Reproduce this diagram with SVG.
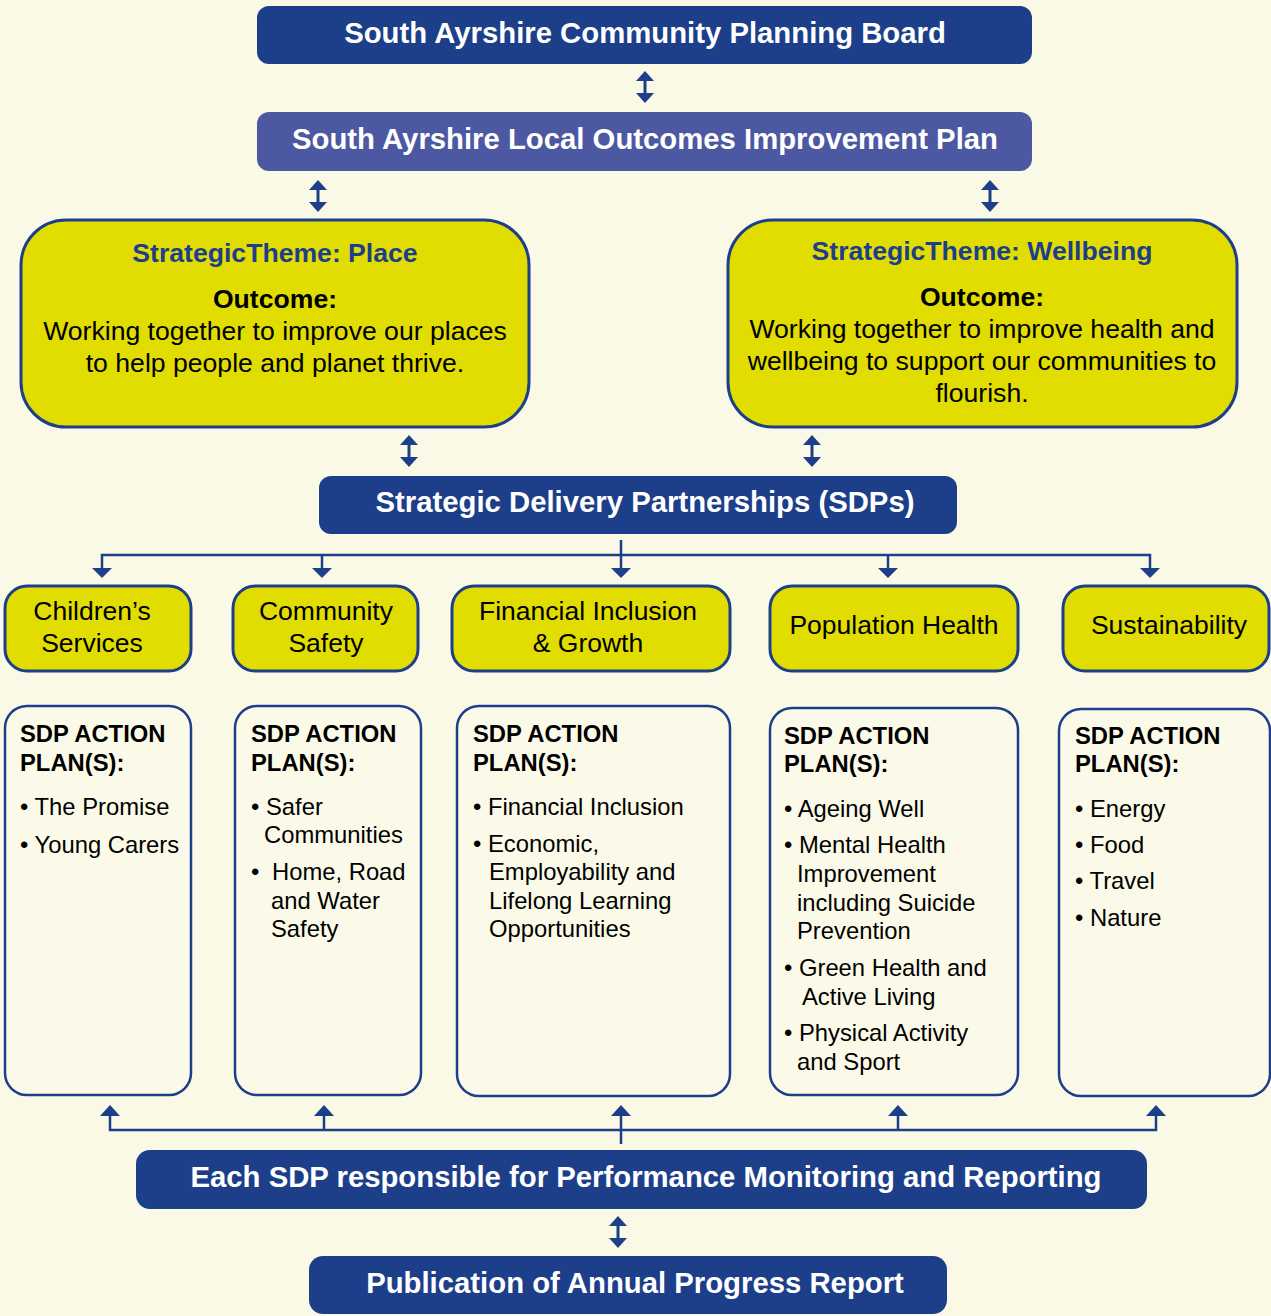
<svg xmlns="http://www.w3.org/2000/svg" width="1271" height="1316" viewBox="0 0 1271 1316">
<defs>
<style>
.bg{fill:#FAF9E6}
.dark{fill:#1D3F8A}
.loip{fill:#4C58A2}
.yel{fill:#E2DD00;stroke:#1D3F8A;stroke-width:3}
.plan{fill:#FBFAE8;stroke:#1D3F8A;stroke-width:2.5}
.ttl{font-family:"Liberation Sans",Arial,sans-serif;font-weight:bold;font-size:29.3px;fill:#FFFFFF;text-anchor:middle}
.theme{font-family:"Liberation Sans",Arial,sans-serif;font-weight:bold;font-size:26.6px;fill:#1D3F8A;text-anchor:middle}
.outc{font-family:"Liberation Sans",Arial,sans-serif;font-weight:bold;font-size:26.6px;fill:#000;text-anchor:middle}
.body{font-family:"Liberation Sans",Arial,sans-serif;font-size:26.6px;fill:#000;text-anchor:middle}
.sdp{font-family:"Liberation Sans",Arial,sans-serif;font-size:26.5px;fill:#000;text-anchor:middle}
.hd{font-family:"Liberation Sans",Arial,sans-serif;font-weight:bold;font-size:23.8px;fill:#000}
.it{font-family:"Liberation Sans",Arial,sans-serif;font-size:23.8px;fill:#000}
.ln{stroke:#1D3F8A;stroke-width:2.5;fill:none}
.ah{fill:#1D3F8A}
</style>
<g id="dbl">
<polygon class="ah" points="-9,10 0,0 9,10"/>
<polygon class="ah" points="-9,22 0,32 9,22"/>
<line x1="0" y1="9" x2="0" y2="23" stroke="#1D3F8A" stroke-width="3"/>
</g>
<polygon id="down" class="ah" points="-10,0 10,0 0,10"/>
<polygon id="up" class="ah" points="-10,11 10,11 0,0"/>
</defs>
<rect class="bg" x="0" y="0" width="1271" height="1316"/>

<g id="connectors">
<use href="#dbl" x="645" y="71"/>
<use href="#dbl" x="318" y="180"/>
<use href="#dbl" x="990" y="180"/>
<use href="#dbl" x="409" y="435"/>
<use href="#dbl" x="812" y="435"/>
<use href="#dbl" x="618" y="1216"/>
<path class="ln" d="M621,540 V568 M102,568 V555 H1150 V568 M322,555 V568 M888,555 V568"/>
<use href="#down" x="102" y="568"/>
<use href="#down" x="322" y="568"/>
<use href="#down" x="621" y="568"/>
<use href="#down" x="888" y="568"/>
<use href="#down" x="1150" y="568"/>
<path class="ln" d="M621,1144 V1115 M110,1115 V1130 H1156 V1115 M324,1115 V1130 M898,1115 V1130"/>
<use href="#up" x="110" y="1105"/>
<use href="#up" x="324" y="1105"/>
<use href="#up" x="621" y="1105"/>
<use href="#up" x="898" y="1105"/>
<use href="#up" x="1156" y="1105"/>
</g>

<g id="board">
<rect class="dark" x="257" y="6" width="775" height="58" rx="12"/>
<text class="ttl" x="645" y="43">South Ayrshire Community Planning Board</text>
</g>
<g id="loip">
<rect class="loip" x="257" y="112" width="775" height="59" rx="12"/>
<text class="ttl" x="645" y="149">South Ayrshire Local Outcomes Improvement Plan</text>
</g>
<g id="place">
<rect class="yel" x="21" y="220" width="508" height="207" rx="45"/>
<text class="theme" x="275" y="262">StrategicTheme: Place</text>
<text class="outc" x="275" y="308">Outcome:</text>
<text class="body" x="275" y="340">Working together to improve our places</text>
<text class="body" x="275" y="372">to help people and planet thrive.</text>
</g>
<g id="wellbeing">
<rect class="yel" x="728" y="220" width="509" height="207" rx="45"/>
<text class="theme" x="982" y="260">StrategicTheme: Wellbeing</text>
<text class="outc" x="982" y="306">Outcome:</text>
<text class="body" x="982" y="338">Working together to improve health and</text>
<text class="body" x="982" y="370">wellbeing to support our communities to</text>
<text class="body" x="982" y="402">flourish.</text>
</g>
<g id="sdps">
<rect class="dark" x="319" y="476" width="638" height="58" rx="12"/>
<text class="ttl" x="645" y="512">Strategic Delivery Partnerships (SDPs)</text>
</g>

<g id="childrens">
<rect class="yel" x="5" y="586" width="186" height="85" rx="22"/>
<text class="sdp" x="92" y="620">Children’s</text>
<text class="sdp" x="92" y="652">Services</text>
</g>
<g id="community">
<rect class="yel" x="233" y="586" width="185" height="85" rx="22"/>
<text class="sdp" x="326" y="620">Community</text>
<text class="sdp" x="326" y="652">Safety</text>
</g>
<g id="financial">
<rect class="yel" x="452" y="586" width="278" height="85" rx="22"/>
<text class="sdp" x="588" y="620">Financial Inclusion</text>
<text class="sdp" x="588" y="652">&amp; Growth</text>
</g>
<g id="population">
<rect class="yel" x="770" y="586" width="248" height="85" rx="22"/>
<text class="sdp" x="894" y="634">Population Health</text>
</g>
<g id="sustainability">
<rect class="yel" x="1063" y="586" width="206" height="85" rx="22"/>
<text class="sdp" x="1169" y="634">Sustainability</text>
</g>

<g id="plan-childrens">
<rect class="plan" x="5" y="706" width="186" height="389" rx="22"/>
<text class="hd" x="20" y="742">SDP ACTION</text>
<text class="hd" x="20" y="771">PLAN(S):</text>
<text class="it" x="20" y="815">• The Promise</text>
<text class="it" x="20" y="853">• Young Carers</text>
</g>
<g id="plan-community">
<rect class="plan" x="235" y="706" width="186" height="389" rx="22"/>
<text class="hd" x="251" y="742">SDP ACTION</text>
<text class="hd" x="251" y="771">PLAN(S):</text>
<text class="it" x="251" y="815">• Safer</text>
<text class="it" x="264" y="843">Communities</text>
<text class="it" x="251" y="880">•</text>
<text class="it" x="272" y="880">Home, Road</text>
<text class="it" x="271" y="909">and Water</text>
<text class="it" x="271" y="937">Safety</text>
</g>
<g id="plan-financial">
<rect class="plan" x="457" y="706" width="273" height="390" rx="22"/>
<text class="hd" x="473" y="742">SDP ACTION</text>
<text class="hd" x="473" y="771">PLAN(S):</text>
<text class="it" x="473" y="815">• Financial Inclusion</text>
<text class="it" x="473" y="852">• Economic,</text>
<text class="it" x="489" y="880">Employability and</text>
<text class="it" x="489" y="909">Lifelong Learning</text>
<text class="it" x="489" y="937">Opportunities</text>
</g>
<g id="plan-population">
<rect class="plan" x="770" y="708" width="248" height="387" rx="22"/>
<text class="hd" x="784" y="744">SDP ACTION</text>
<text class="hd" x="784" y="772">PLAN(S):</text>
<text class="it" x="784" y="817">• Ageing Well</text>
<text class="it" x="784" y="853">• Mental Health</text>
<text class="it" x="797" y="882">Improvement</text>
<text class="it" x="797" y="911">including Suicide</text>
<text class="it" x="797" y="939">Prevention</text>
<text class="it" x="784" y="976">• Green Health and</text>
<text class="it" x="802" y="1005">Active Living</text>
<text class="it" x="784" y="1041">• Physical Activity</text>
<text class="it" x="797" y="1070">and Sport</text>
</g>
<g id="plan-sustainability">
<rect class="plan" x="1059" y="709" width="211" height="387" rx="22"/>
<text class="hd" x="1075" y="744">SDP ACTION</text>
<text class="hd" x="1075" y="772">PLAN(S):</text>
<text class="it" x="1075" y="817">• Energy</text>
<text class="it" x="1075" y="853">• Food</text>
<text class="it" x="1075" y="889">• Travel</text>
<text class="it" x="1075" y="926">• Nature</text>
</g>

<g id="performance">
<rect class="dark" x="136" y="1150" width="1011" height="59" rx="14"/>
<text class="ttl" x="646" y="1187">Each SDP responsible for Performance Monitoring and Reporting</text>
</g>
<g id="publication">
<rect class="dark" x="309" y="1256" width="638" height="58" rx="14"/>
<text class="ttl" x="635" y="1293">Publication of Annual Progress Report</text>
</g>
</svg>
